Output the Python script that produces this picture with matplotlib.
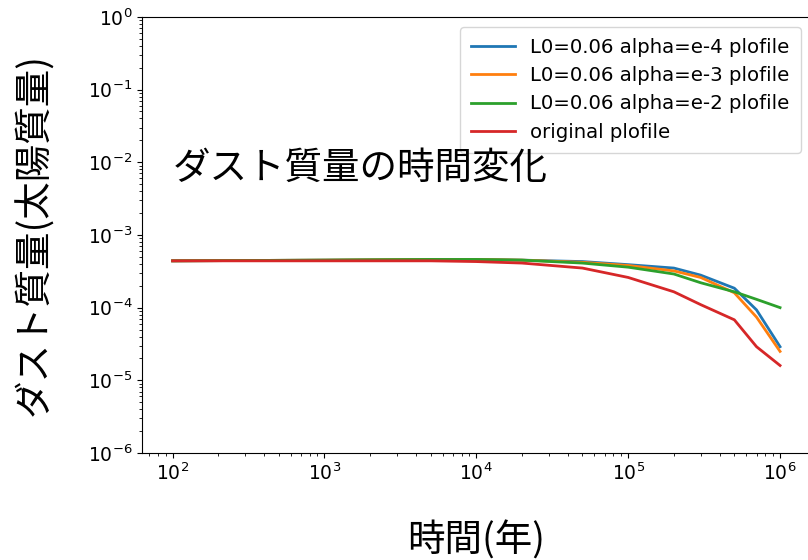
import matplotlib
matplotlib.use("Agg")
import matplotlib.pyplot as plt

plt.rcParams['font.family'] = ['DejaVu Sans', 'Noto Sans CJK JP']

# time (years) and dust mass (solar masses)
t = [1e2, 1e3, 5e3, 1e4, 2e4, 5e4, 1e5, 2e5, 3e5, 5e5, 7e5, 1e6]
m_e4 = [4.4e-4, 4.5e-4, 4.6e-4, 4.6e-4, 4.5e-4, 4.3e-4, 3.9e-4, 3.5e-4, 2.8e-4, 1.85e-4, 9.3e-5, 2.9e-5]
m_e3 = [4.4e-4, 4.5e-4, 4.6e-4, 4.6e-4, 4.5e-4, 4.2e-4, 3.8e-4, 3.2e-4, 2.6e-4, 1.6e-4, 7.4e-5, 2.5e-5]
m_e2 = [4.4e-4, 4.5e-4, 4.6e-4, 4.6e-4, 4.5e-4, 4.1e-4, 3.6e-4, 2.9e-4, 2.2e-4, 1.65e-4, 1.3e-4, 1.0e-4]
m_orig = [4.4e-4, 4.4e-4, 4.4e-4, 4.3e-4, 4.1e-4, 3.5e-4, 2.6e-4, 1.65e-4, 1.1e-4, 6.8e-5, 2.9e-5, 1.6e-5]
labels = ['L0=0.06 alpha=e-4 plofile', 'L0=0.06 alpha=e-3 plofile',
          'L0=0.06 alpha=e-2 plofile', 'original plofile']

jp = ['Noto Sans CJK JP', 'DejaVu Sans']

fig = plt.figure(figsize=(8.08, 5.6), dpi=100)
ax = fig.add_axes([0.176, 0.191, 0.827, 0.779])

for m, lab in zip([m_e4, m_e3, m_e2, m_orig], labels):
    ax.plot(t, m, lw=2, label=lab)

ax.set_xscale('log')
ax.set_yscale('log')
ax.set_ylim(1e-6, 1e0)
ax.tick_params(labelsize=13.5)

ax.text(1e2, 10**-2.08, 'ダスト質量の時間変化', fontsize=27, family=jp, va='center',
        zorder=6)
ax.set_xlabel('時間(年)', fontsize=27, family=jp, labelpad=27)
ax.set_ylabel('ダスト質量(太陽質量)', fontsize=27, family=jp, labelpad=24)
ax.legend(loc='upper right', fontsize=14.2, labelspacing=0.48, handlelength=2.2,
          borderpad=0.55)

fig.savefig('out.png', dpi=100)
